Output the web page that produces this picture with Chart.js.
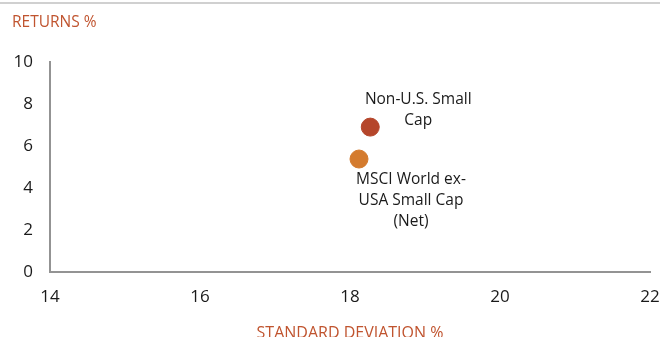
<!DOCTYPE html>
<html>
<head>
<meta charset="utf-8">
<script src="https://cdn.jsdelivr.net/npm/chart.js@4"></script>
<style>
  html, body { margin: 0; padding: 0; background: #fff; }
  #wrap { width: 660px; height: 337px; position: relative; }
</style>
</head>
<body>
<div id="wrap"><canvas id="chart" width="660" height="337"></canvas></div>
<script>
// ===== DATA =====
const seriesNames = ['Non-U.S. Small Cap', 'MSCI World ex-USA Small Cap (Net)'];
const stdDevs = [18.27, 18.12];   // x: standard deviation %
const returnsPct = [6.9, 5.38];   // y: returns %
const pointColors = ['#b5462b', '#d47b2e'];
const xTicks = [14, 16, 18, 20, 22];
const yTicks = [0, 2, 4, 6, 8, 10];
const xTitle = 'STANDARD DEVIATION %';
const yTitle = 'RETURNS %';

// labels are wrapped like in the original
const labelLines = [
  ['Non-U.S. Small', 'Cap'],
  ['MSCI World ex-', 'USA Small Cap', '(Net)']
];
// label offset from its point: [dx, dy of first line]
const labelOffsets = [[48, -28], [52, 21]];

const FONT = '"Open Sans", "Noto Sans", sans-serif';
const accent = '#c0542f';

// ===== EXTRA DRAWING: top rule, axis titles, point labels =====
const extras = {
  id: 'extras',
  afterDatasetsDraw(chart) {
    const ctx = chart.ctx;
    const area = chart.chartArea;
    ctx.save();
    // thin grey rule at the very top
    ctx.strokeStyle = '#d0d0d0';
    ctx.lineWidth = 2;
    ctx.beginPath();
    ctx.moveTo(0, 3);
    ctx.lineTo(chart.width, 3);
    ctx.stroke();

    // axis titles
    ctx.fillStyle = accent;
    ctx.font = '15.5px ' + FONT;
    ctx.textBaseline = 'middle';
    ctx.textAlign = 'left';
    ctx.fillText(yTitle, 12, 23);
    ctx.font = '16px ' + FONT;
    ctx.textAlign = 'center';
    ctx.fillText(xTitle, (area.left + area.right) / 2, 333);

    // point labels
    ctx.fillStyle = '#1a1a1a';
    ctx.font = '15.5px ' + FONT;
    ctx.textAlign = 'center';
    chart.data.datasets.forEach(function(ds, i) {
      const pt = chart.getDatasetMeta(i).data[0];
      const lines = labelLines[i];
      lines.forEach(function(line, k) {
        ctx.fillText(line, pt.x + labelOffsets[i][0], pt.y + labelOffsets[i][1] + k * 21);
      });
    });
    ctx.restore();
  }
};

const datasets = seriesNames.map(function(name, i) {
  return {
    label: name,
    data: [{ x: stdDevs[i], y: returnsPct[i] }],
    backgroundColor: pointColors[i],
    borderColor: pointColors[i],
    pointRadius: 9,
    pointHoverRadius: 9
  };
});

new Chart(document.getElementById('chart'), {
  type: 'scatter',
  data: { datasets: datasets },
  plugins: [extras],
  options: {
    responsive: false,
    animation: false,
    layout: { padding: { left: 0, right: 10, top: 62, bottom: 0 } },
    plugins: {
      legend: { display: false },
      tooltip: { enabled: false }
    },
    scales: {
      x: {
        type: 'linear',
        min: xTicks[0],
        max: xTicks[xTicks.length - 1],
        afterBuildTicks: function(s) { s.ticks = xTicks.map(function(v) { return { value: v }; }); },
        afterFit: function(s) { s.height = 65; s.paddingLeft = 0; s.paddingRight = 0; },
        grid: { display: false, drawTicks: false },
        border: { color: '#939393', width: 2 },
        ticks: { color: '#1a1a1a', font: { family: FONT, size: 17 }, padding: 15 }
      },
      y: {
        type: 'linear',
        min: yTicks[0],
        max: yTicks[yTicks.length - 1],
        afterBuildTicks: function(s) { s.ticks = yTicks.map(function(v) { return { value: v }; }); },
        afterFit: function(s) { s.width = 50; s.paddingTop = 0; s.paddingBottom = 0; },
        grid: { display: false, drawTicks: false },
        border: { color: '#939393', width: 2 },
        ticks: { color: '#1a1a1a', font: { family: FONT, size: 17 }, padding: 17 }
      }
    }
  }
});
</script>
</body>
</html>
